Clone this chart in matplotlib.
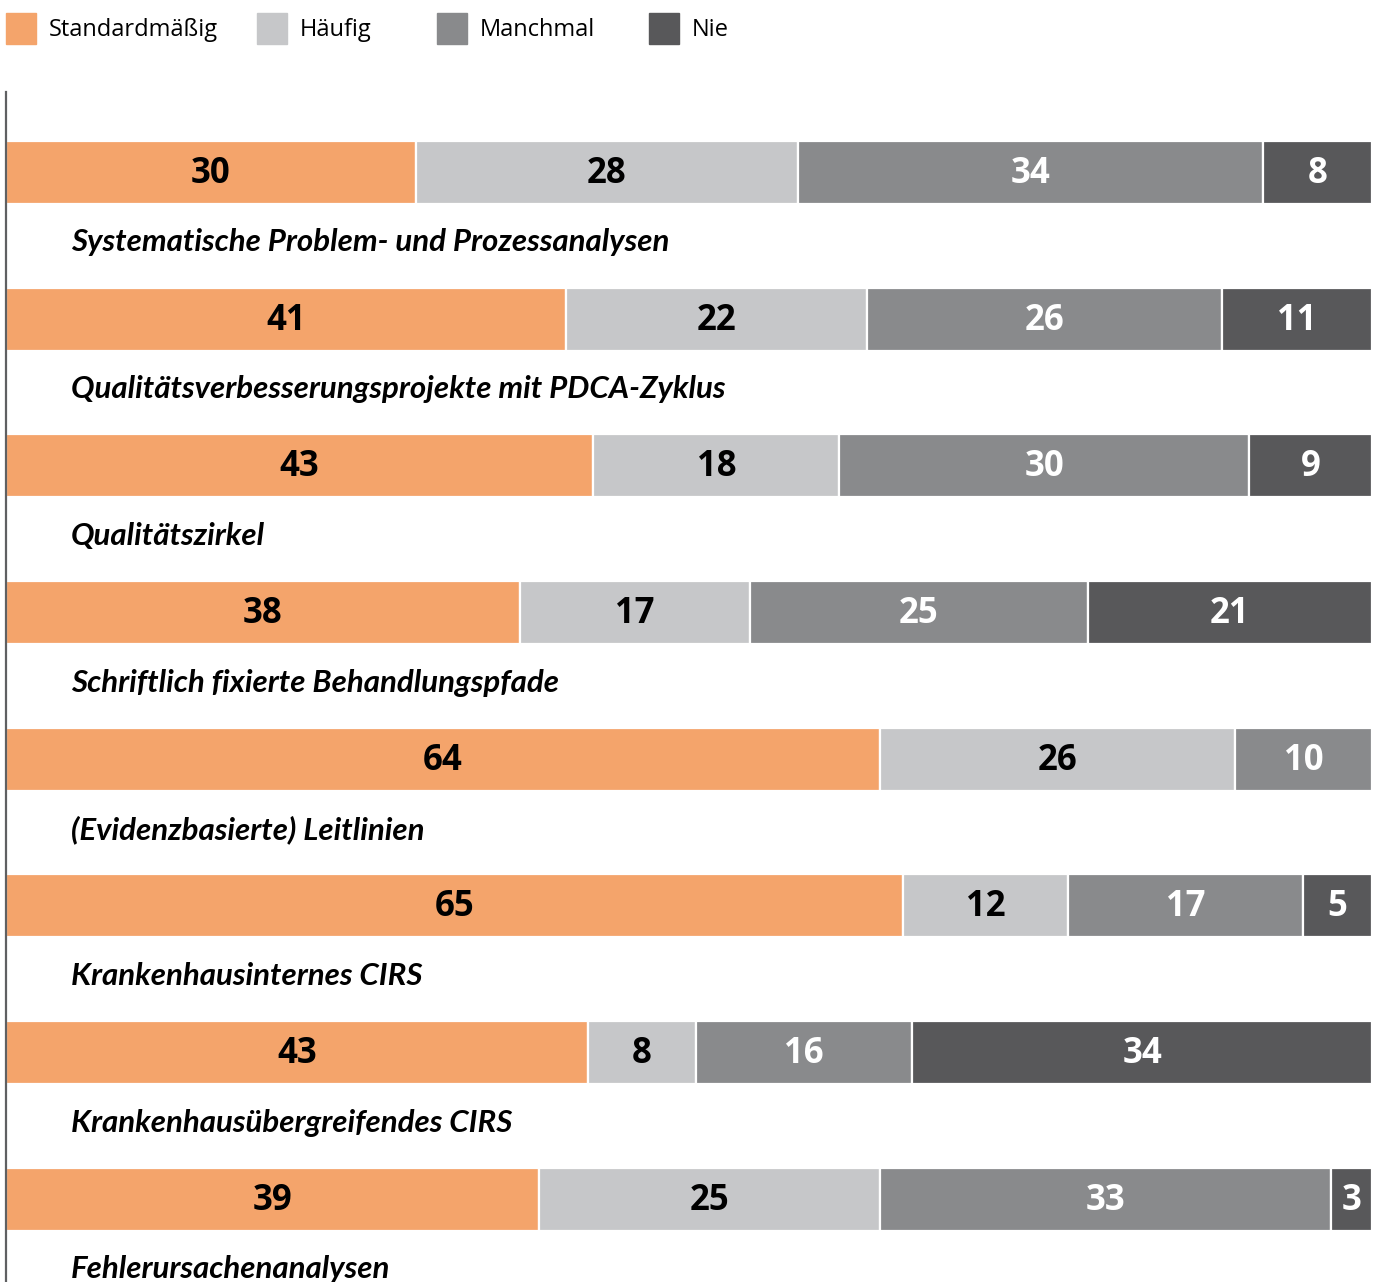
import matplotlib
matplotlib.use("Agg")
import matplotlib.pyplot as plt
from matplotlib.patches import Rectangle
import numpy as np

categories = [
    "Systematische Problem- und Prozessanalysen",
    "Qualitätsverbesserungsprojekte mit PDCA-Zyklus",
    "Qualitätszirkel",
    "Schriftlich fixierte Behandlungspfade",
    "(Evidenzbasierte) Leitlinien",
    "Krankenhausinternes CIRS",
    "Krankenhausübergreifendes CIRS",
    "Fehlerursachenanalysen",
]
series_names = ["Standardmäßig", "Häufig", "Manchmal", "Nie"]
standard = [30, 41, 43, 38, 64, 65, 43, 39]
haeufig = [28, 22, 18, 17, 26, 12, 8, 25]
manchmal = [34, 26, 30, 25, 10, 17, 16, 33]
nie = [8, 11, 9, 21, 0, 5, 34, 3]

colors = ["#F4A46B", "#C6C7C9", "#898A8C", "#58585A"]
text_colors = ["black", "black", "white", "white"]

W, H = 1381, 1282
fig = plt.figure(figsize=(W / 100, H / 100), dpi=100)

ax_left, ax_right, ax_top, ax_bottom = 6, 1372, 92, 1282
ax = fig.add_axes([ax_left / W, 1 - ax_bottom / H, (ax_right - ax_left) / W, (ax_bottom - ax_top) / H])
ax.set_xlim(0, 1)
ax.set_ylim(ax_bottom, ax_top)  # data units = pixel rows

data = np.array([standard, haeufig, manchmal, nie], dtype=float)
totals = data.sum(axis=0)
frac = data / totals

pitch = 146.7
first_center = 172.5
bar_h = 63
for i, cat in enumerate(categories):
    yc = first_center + pitch * i
    left = 0.0
    for s in range(4):
        w = frac[s, i]
        if data[s, i] > 0:
            ax.barh(yc, w, left=left, height=bar_h, color=colors[s],
                    edgecolor="white", linewidth=1.6)
            ax.text(left + w / 2, yc + 1.5, f"{int(data[s, i])}", ha="center", va="center",
                    fontsize=25, fontweight="bold", color=text_colors[s],
                    family="Open Sans")
        left += w
    ax.text(65 / (ax_right - ax_left), yc + 70, cat, ha="left", va="center",
            fontsize=22.5, fontweight="bold", fontstyle="italic",
            family="Lato", color="black")

for sp in ["top", "right", "bottom"]:
    ax.spines[sp].set_visible(False)
ax.spines["left"].set_color("#5f6062")
ax.spines["left"].set_linewidth(1.6)
ax.set_xticks([])
ax.set_yticks([])

leg_x = [6, 257, 437, 649]
for s, name in enumerate(series_names):
    x0 = leg_x[s]
    fig.patches.append(Rectangle((x0 / W, 1 - 44 / H), 30 / W, 31 / H,
                                 transform=fig.transFigure, color=colors[s]))
    fig.text((x0 + 43) / W, 1 - 30 / H, name, ha="left", va="center",
             fontsize=17, family="Open Sans", color="black")

fig.savefig("out.png", dpi=100)
